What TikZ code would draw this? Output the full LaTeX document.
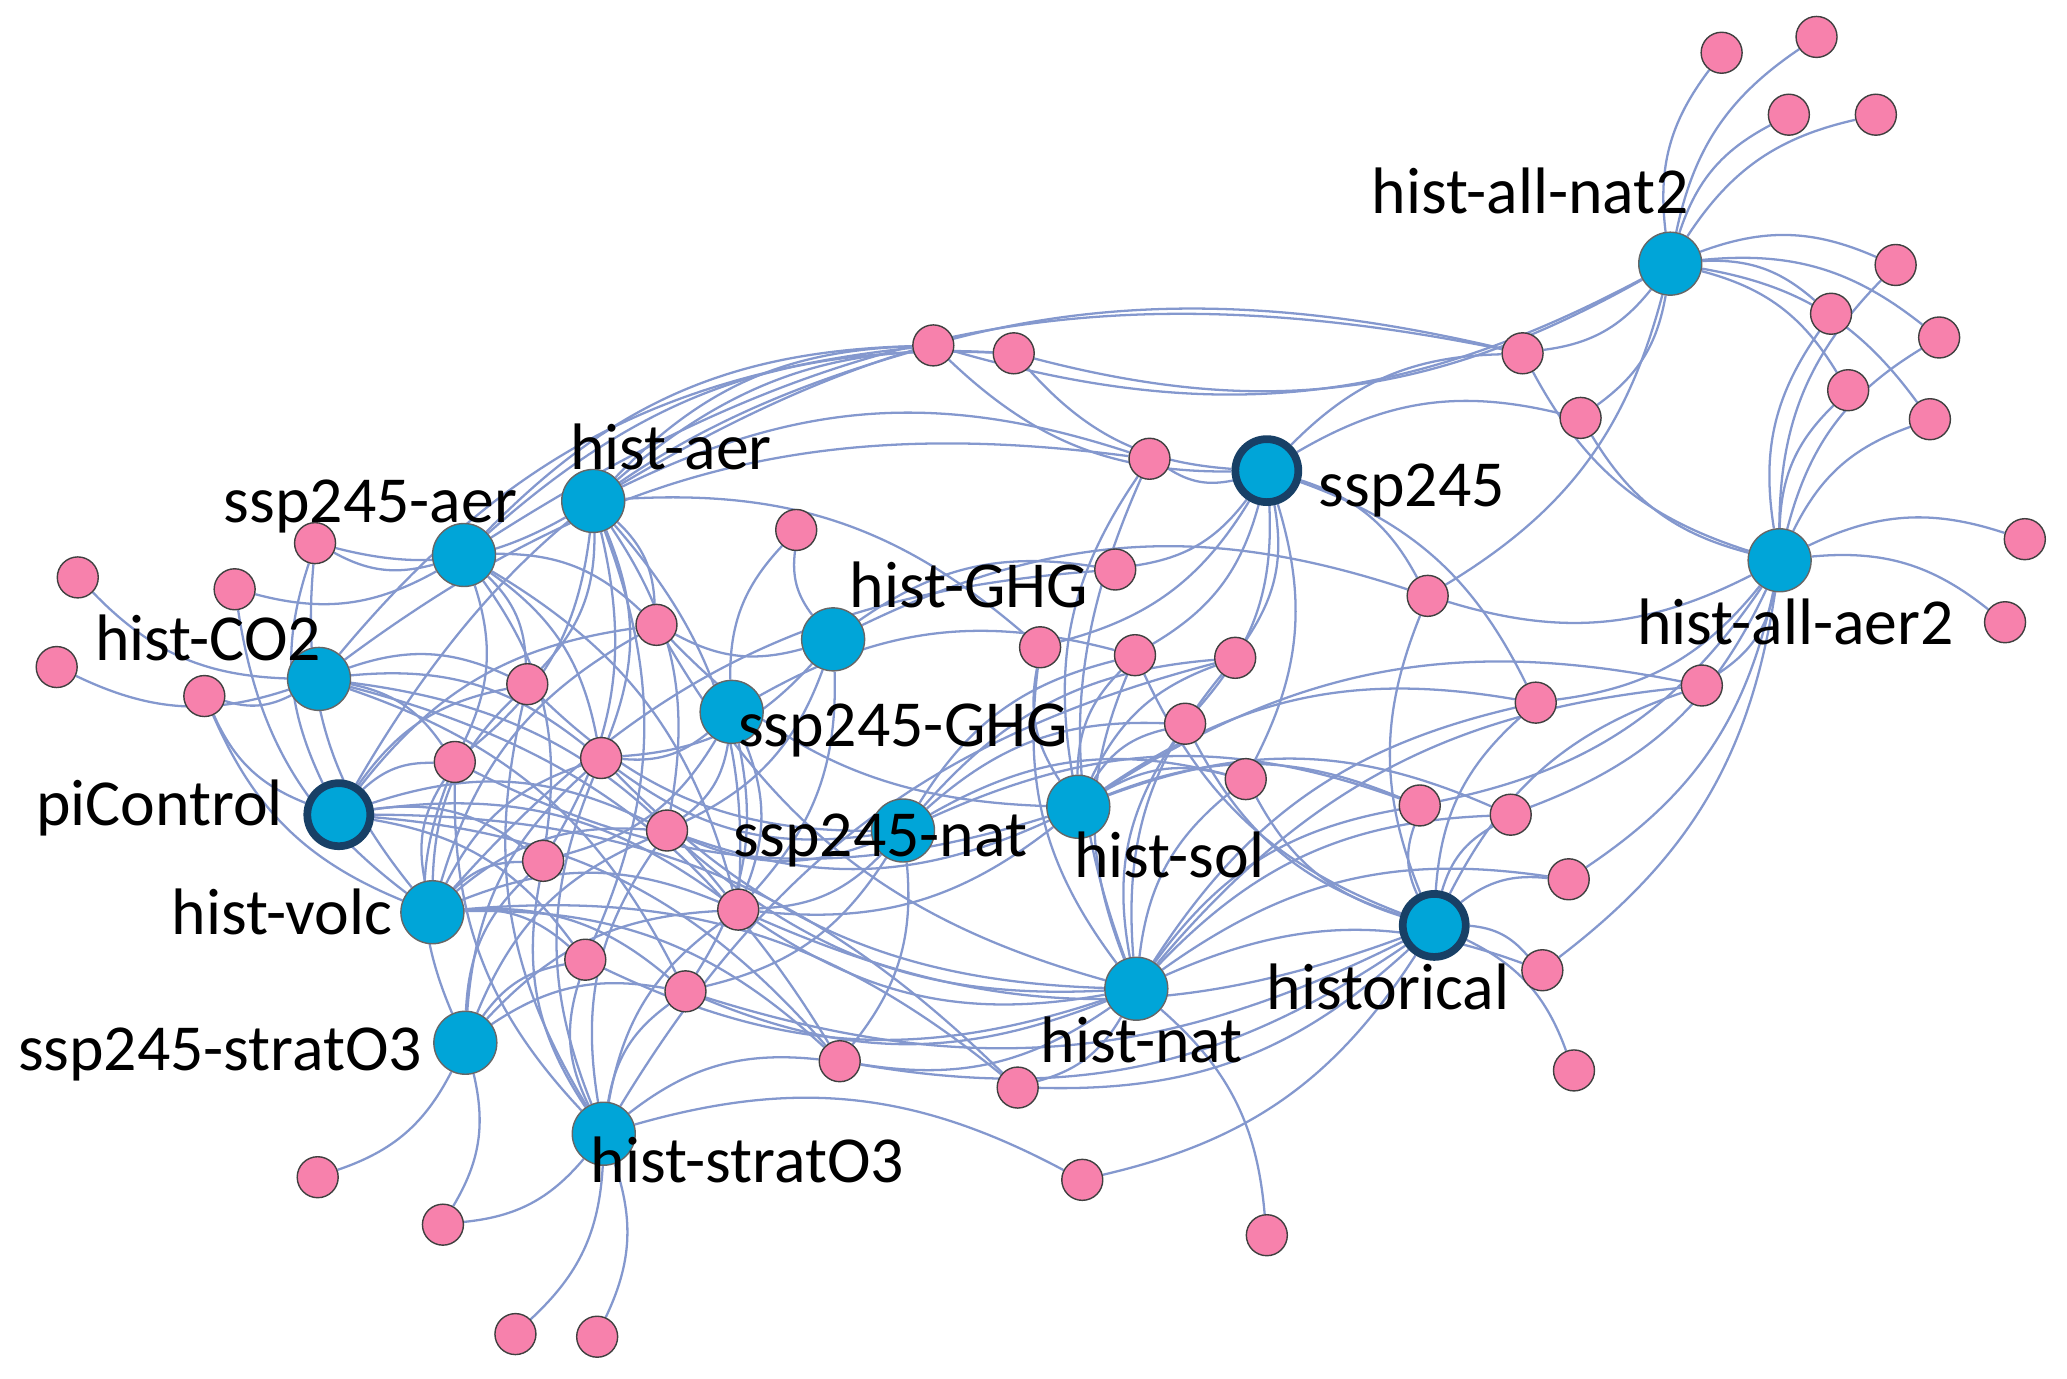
\documentclass[tikz,border=0pt]{standalone}
\usepackage{fontspec}
\setmainfont{Carlito}
\definecolor{modelpink}{RGB}{247,129,172}
\definecolor{exptblue}{RGB}{0,165,216}
\definecolor{ringnavy}{RGB}{24,64,102}
\definecolor{linkblue}{RGB}{132,152,206}
\usepackage{tikz}
\usetikzlibrary{positioning,backgrounds}

\begin{document}
\begin{tikzpicture}[x=0.13183mm, y=-0.13183mm,
    model/.style={circle, draw=black!75, line width=0.4pt, fill=modelpink, minimum size=4.1mm, inner sep=0pt},
    expt/.style={circle, draw=black!60, line width=0.4pt, fill=exptblue, minimum size=6.3mm, inner sep=0pt},
    core/.style={circle, draw=ringnavy, line width=2.2pt, fill=exptblue, minimum size=6.3mm, inner sep=0pt},
    tag/.style={anchor=base, inner sep=0pt, font=\fontsize{18.7}{20}\selectfont},
    link/.style={draw=linkblue, line width=0.65pt}]
    \useasboundingbox (0,0) rectangle (1568,1046);

    % Experiments
    \node[expt] (histallnat) at (1267,200) {};
    \node[core] (ssp) at (961,357) {};
    \node[expt] (histallaer) at (1350,425) {};
    \node[expt] (histaer) at (450,380) {};
    \node[expt] (sspaer) at (352,421) {};
    \node[expt] (histghg) at (632,485) {};
    \node[expt] (histco) at (242,515) {};
    \node[expt] (sspghg) at (555,540) {};
    \node[core] (picontrol) at (257,618) {};
    \node[expt] (sspnat) at (685,630) {};
    \node[expt] (histsol) at (818,612) {};
    \node[expt] (histvolc) at (328,692) {};
    \node[core] (historical) at (1088,702) {};
    \node[expt] (histnat) at (862,750) {};
    \node[expt] (sspstrat) at (353,791) {};
    \node[expt] (histstrat) at (458,860) {};

    % Models
    \foreach \n/\x/\y in {1/1306/40, 2/1378/28, 3/1357/87, 4/1423/87, 5/1438/201, 6/1389/238,
        7/1471/256, 8/1402/296, 9/1464/318, 10/1199/317, 11/1155/268, 12/1536/409, 13/1521/472,
        14/708/262, 15/769/268, 16/872/348, 17/846/432, 18/1083/452, 19/604/402, 20/789/491,
        21/861/497, 22/937/499, 23/899/549, 24/59/438, 25/43/506, 26/178/447, 27/239/412,
        28/155/528, 29/498/474, 30/400/519, 31/345/578, 32/456/575, 33/506/630, 34/412/653,
        35/560/690, 36/444/728, 37/520/752, 38/1165/533, 39/1291/520, 40/945/591, 41/1077/611,
        42/1146/618, 43/1190/667, 44/1170/736, 45/1194/812, 46/637/805, 47/772/825, 48/821/895,
        49/961/937, 50/241/893, 51/336/929, 52/391/1012, 53/453/1014}
        \node[model] (m\n) at (\x,\y) {};

    % Labels
    \node[tag] (histallnatlabel) at (1161,162) {hist-all-nat2};
    \node[tag] (ssplabel) at (1071,384) {ssp245};
    \node[tag] (histallaerlabel) at (1362,489) {hist-all-aer2};
    \node[tag] (histaerlabel) at (509,356) {hist-aer};
    \node[tag] (sspaerlabel) at (281,396) {ssp245-aer};
    \node[tag] (histghglabel) at (735,461) {hist-GHG};
    \node[tag] (histcolabel) at (158,501) {hist-CO2};
    \node[tag] (sspghglabel) at (685,566) {ssp245-GHG};
    \node[tag] (picontrollabel) at (121,626) {piControl};
    \node[tag] (sspnatlabel) at (668,650) {ssp245-nat};
    \node[tag] (histsollabel) at (887,666) {hist-sol};
    \node[tag] (histvolclabel) at (214,709) {hist-volc};
    \node[tag] (historicallabel) at (1053,766) {historical};
    \node[tag] (histnatlabel) at (866,806) {hist-nat};
    \node[tag] (sspstratlabel) at (167,812) {ssp245-stratO3};
    \node[tag] (histstratlabel) at (567,897) {hist-stratO3};

    % Links, behind everything
    \begin{scope}[on background layer]
    \foreach \e in {histallnat} \draw[link] (\e) to[bend left=22] (m1);
    \foreach \e in {histallnat} \draw[link] (\e) to[bend left=22] (m2);
    \foreach \e in {histallnat} \draw[link] (\e) to[bend left=22] (m3);
    \foreach \e in {histallnat} \draw[link] (\e) to[bend left=22] (m4);
    \foreach \e in {histallnat,histallaer} \draw[link] (\e) to[bend left=22] (m5);
    \foreach \e in {histallnat,histallaer} \draw[link] (\e) to[bend left=22] (m6);
    \foreach \e in {histallnat,histallaer} \draw[link] (\e) to[bend left=22] (m7);
    \foreach \e in {histallnat,histallaer} \draw[link] (\e) to[bend left=22] (m8);
    \foreach \e in {histallnat,histallaer} \draw[link] (\e) to[bend left=22] (m9);
    \foreach \e in {histallnat,histallaer,ssp} \draw[link] (\e) to[bend left=22] (m10);
    \foreach \e in {histallnat,histallaer,ssp,histaer,sspaer} \draw[link] (\e) to[bend left=22] (m11);
    \foreach \e in {histallaer} \draw[link] (\e) to[bend left=22] (m12);
    \foreach \e in {histallaer} \draw[link] (\e) to[bend left=22] (m13);
    \foreach \e in {histaer,sspaer,histco,picontrol,ssp,histallnat} \draw[link] (\e) to[bend left=22] (m14);
    \foreach \e in {histaer,sspaer,ssp,histallnat} \draw[link] (\e) to[bend left=22] (m15);
    \foreach \e in {ssp,histaer,histnat,histco,histsol} \draw[link] (\e) to[bend left=22] (m16);
    \foreach \e in {ssp,histghg,histvolc} \draw[link] (\e) to[bend left=22] (m17);
    \foreach \e in {ssp,histallaer,histallnat,historical,histghg} \draw[link] (\e) to[bend left=22] (m18);
    \foreach \e in {sspghg,histghg} \draw[link] (\e) to[bend left=22] (m19);
    \foreach \e in {histaer,histnat,histsol,ssp} \draw[link] (\e) to[bend left=22] (m20);
    \foreach \e in {histsol,histnat,ssp,sspghg,sspnat,historical} \draw[link] (\e) to[bend left=22] (m21);
    \foreach \e in {ssp,histnat,histsol,histstrat,sspnat} \draw[link] (\e) to[bend left=22] (m22);
    \foreach \e in {histsol,histnat,sspnat,historical,ssp} \draw[link] (\e) to[bend left=22] (m23);
    \foreach \e in {histco} \draw[link] (\e) to[bend left=22] (m24);
    \foreach \e in {histco} \draw[link] (\e) to[bend left=22] (m25);
    \foreach \e in {sspaer,histvolc} \draw[link] (\e) to[bend left=22] (m26);
    \foreach \e in {sspaer,histaer,picontrol,histvolc} \draw[link] (\e) to[bend left=22] (m27);
    \foreach \e in {histco,picontrol,histvolc} \draw[link] (\e) to[bend left=22] (m28);
    \foreach \e in {histaer,sspaer,histghg,histnat,histvolc,picontrol,histsol} \draw[link] (\e) to[bend left=22] (m29);
    \foreach \e in {histco,histaer,sspaer,sspnat,picontrol,histvolc,histstrat} \draw[link] (\e) to[bend left=22] (m30);
    \foreach \e in {histaer,histco,sspaer,histvolc,sspstrat,histstrat,picontrol,histsol} \draw[link] (\e) to[bend left=22] (m31);
    \foreach \e in {histaer,sspaer,histco,sspghg,histvolc,sspstrat,histstrat,histnat,sspnat,histghg} \draw[link] (\e) to[bend left=22] (m32);
    \foreach \e in {histaer,histghg,sspghg,histvolc,sspstrat,histstrat,sspnat,histnat,histsol,picontrol} \draw[link] (\e) to[bend left=22] (m33);
    \foreach \e in {sspaer,picontrol,histvolc,histstrat,sspstrat,sspghg,histaer} \draw[link] (\e) to[bend left=22] (m34);
    \foreach \e in {histaer,sspaer,histco,sspghg,histghg,picontrol,histvolc,sspstrat,histstrat,sspnat,histsol,histnat,historical} \draw[link] (\e) to[bend left=22] (m35);
    \foreach \e in {histvolc,sspstrat,histstrat,picontrol,histaer,histnat} \draw[link] (\e) to[bend left=22] (m36);
    \foreach \e in {histvolc,histstrat,sspstrat,sspnat,sspghg,histco,histnat,historical} \draw[link] (\e) to[bend left=22] (m37);
    \foreach \e in {histallaer,histsol,historical,ssp,histnat} \draw[link] (\e) to[bend left=22] (m38);
    \foreach \e in {histallaer,histnat,historical,histsol} \draw[link] (\e) to[bend left=22] (m39);
    \foreach \e in {histnat,histsol,historical,ssp,sspnat} \draw[link] (\e) to[bend left=22] (m40);
    \foreach \e in {histnat,historical,histsol,histallaer,sspnat} \draw[link] (\e) to[bend left=22] (m41);
    \foreach \e in {historical,histallaer,histsol,histnat} \draw[link] (\e) to[bend left=22] (m42);
    \foreach \e in {historical,histallaer,histnat} \draw[link] (\e) to[bend left=22] (m43);
    \foreach \e in {historical,histallaer,histnat} \draw[link] (\e) to[bend left=22] (m44);
    \foreach \e in {historical} \draw[link] (\e) to[bend left=22] (m45);
    \foreach \e in {histnat,histvolc,picontrol,sspnat,histstrat,histco,historical} \draw[link] (\e) to[bend left=22] (m46);
    \foreach \e in {histnat,historical,histvolc,picontrol} \draw[link] (\e) to[bend left=22] (m47);
    \foreach \e in {histstrat,historical} \draw[link] (\e) to[bend left=22] (m48);
    \foreach \e in {histnat} \draw[link] (\e) to[bend left=22] (m49);
    \foreach \e in {sspstrat} \draw[link] (\e) to[bend left=22] (m50);
    \foreach \e in {sspstrat,histstrat} \draw[link] (\e) to[bend left=22] (m51);
    \foreach \e in {histstrat} \draw[link] (\e) to[bend left=22] (m52);
    \foreach \e in {histstrat} \draw[link] (\e) to[bend left=22] (m53);
    \end{scope}
\end{tikzpicture}
\end{document}
